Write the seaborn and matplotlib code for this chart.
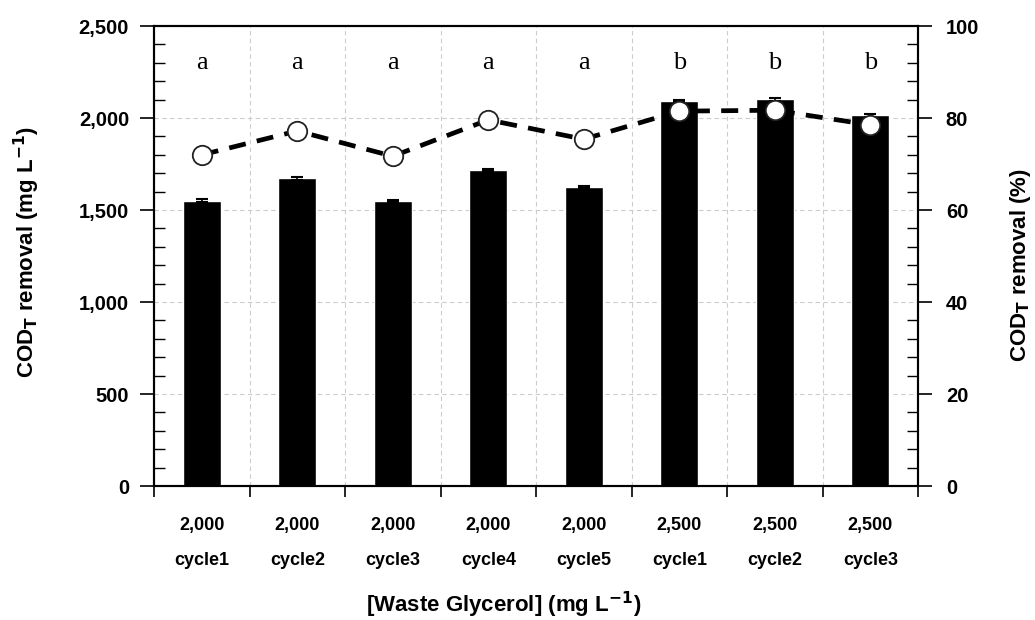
import matplotlib
matplotlib.use("Agg")
import matplotlib.pyplot as plt
from matplotlib.ticker import MultipleLocator, FixedLocator, FuncFormatter
import seaborn as sns
import pandas as pd
import numpy as np

concentrations = ["2,000", "2,000", "2,000", "2,000", "2,000", "2,500", "2,500", "2,500"]
cycles = ["cycle1", "cycle2", "cycle3", "cycle4", "cycle5", "cycle1", "cycle2", "cycle3"]
cod_removal = [1550, 1672, 1550, 1717, 1627, 2094, 2101, 2016]
cod_error = [8, 8, 5, 5, 5, 6, 6, 8]
cod_removal_pct = [72.0, 77.2, 71.7, 79.6, 75.4, 81.5, 81.7, 78.5]
letters = ["a", "a", "a", "a", "a", "b", "b", "b"]

sns.set_theme(style="ticks")
plt.rcParams['font.family'] = ['Liberation Sans', 'DejaVu Sans']
plt.rcParams.update({"text.color": "black", "axes.labelcolor": "black",
                     "xtick.color": "black", "ytick.color": "black",
                     "axes.edgecolor": "black"})

labels = [f"{c}\n{cy}" for c, cy in zip(concentrations, cycles)]
df = pd.DataFrame({"label": [f"{i}" for i in range(len(labels))],
                   "cod": cod_removal, "pct": cod_removal_pct})
pos = np.arange(len(labels))

fig = plt.figure(figsize=(10.35, 6.2), dpi=100)
ax = fig.add_axes([0.1488, 0.216, 0.7382, 0.742])

sns.barplot(data=df, x="label", y="cod", color="black", width=0.4,
            saturation=1, ax=ax, errorbar=None, zorder=3)
ax.errorbar(pos, cod_removal, yerr=cod_error, fmt="none", ecolor="black",
            capsize=4.5, elinewidth=1.2, capthick=1.5, zorder=4)

ax.set_xlim(-0.5, len(labels) - 0.5)
ax.set_ylim(0, 2500)
ax.yaxis.set_major_locator(MultipleLocator(500))
ax.yaxis.set_minor_locator(MultipleLocator(100))
ax.yaxis.set_major_formatter(FuncFormatter(lambda v, p: f"{int(v):,}"))

# x ticks: marks at boundaries, labels at centers
ax.xaxis.set_major_locator(FixedLocator(np.arange(-0.5, len(labels), 1.0)))
ax.xaxis.set_minor_locator(FixedLocator(pos))
ax.set_xticklabels([""] * len(ax.get_xticks()))
ax.set_xticklabels(labels, minor=True)
ax.tick_params(axis="x", which="major", direction="out", length=8, width=1.2)
ax.tick_params(axis="x", which="minor", length=0, pad=22)
for t in ax.get_xticklabels(minor=True):
    t.set_fontweight("bold")
    t.set_fontsize(13)
    t.set_linespacing(2.45)

ax.tick_params(axis="y", which="major", direction="out", length=10, width=1.2, labelsize=14.5, pad=8)
ax.tick_params(axis="y", which="minor", direction="in", length=8, width=1.0)
for t in ax.get_yticklabels():
    t.set_fontweight("bold")

ax.grid(True, which="major", color="#cccccc", linestyle=(0, (4, 3)), linewidth=0.8)
ax.set_axisbelow(True)
for s in ax.spines.values():
    s.set_visible(True)
    s.set_color("black")
    s.set_linewidth(1.5)

ax.set_xlabel("[Waste Glycerol] (mg L$^{\\mathbf{-1}}$)", fontsize=16, fontweight="bold")
ax.xaxis.set_label_coords(0.457, -0.226)
ax.set_ylabel("COD$_\\mathbf{T}$ removal (mg L$^{\\mathbf{-1}}$)", fontsize=16, fontweight="bold")
ax.yaxis.set_label_coords(-0.146, 0.51)

# letters above bars
for i, l in enumerate(letters):
    ax.text(i, 2265, l, ha="center", va="baseline", fontsize=19,
            family=['Liberation Serif', 'DejaVu Serif'])

ax2 = ax.twinx()
sns.lineplot(x=pos, y=cod_removal_pct, ax=ax2, color="black", linewidth=3.4,
             linestyle=(0, (3.6, 2.4)), marker="o", markersize=14,
             markerfacecolor="white", markeredgecolor="#222222", markeredgewidth=1.3,
             zorder=5)
ax2.set_ylim(0, 100)
ax2.yaxis.set_major_locator(MultipleLocator(20))
ax2.yaxis.set_minor_locator(MultipleLocator(4))
ax2.tick_params(axis="y", which="major", direction="out", length=10, width=1.2, labelsize=14.5, pad=10)
ax2.tick_params(axis="y", which="minor", direction="in", length=8, width=1.0)
for t in ax2.get_yticklabels():
    t.set_fontweight("bold")
ax2.set_ylabel("COD$_\\mathbf{T}$ removal (%)", fontsize=16, fontweight="bold")
ax2.yaxis.set_label_coords(1.118, 0.48)
for s in ax2.spines.values():
    s.set_color("black")
    s.set_linewidth(1.5)
ax2.grid(False)

fig.savefig("out.png", dpi=100)
